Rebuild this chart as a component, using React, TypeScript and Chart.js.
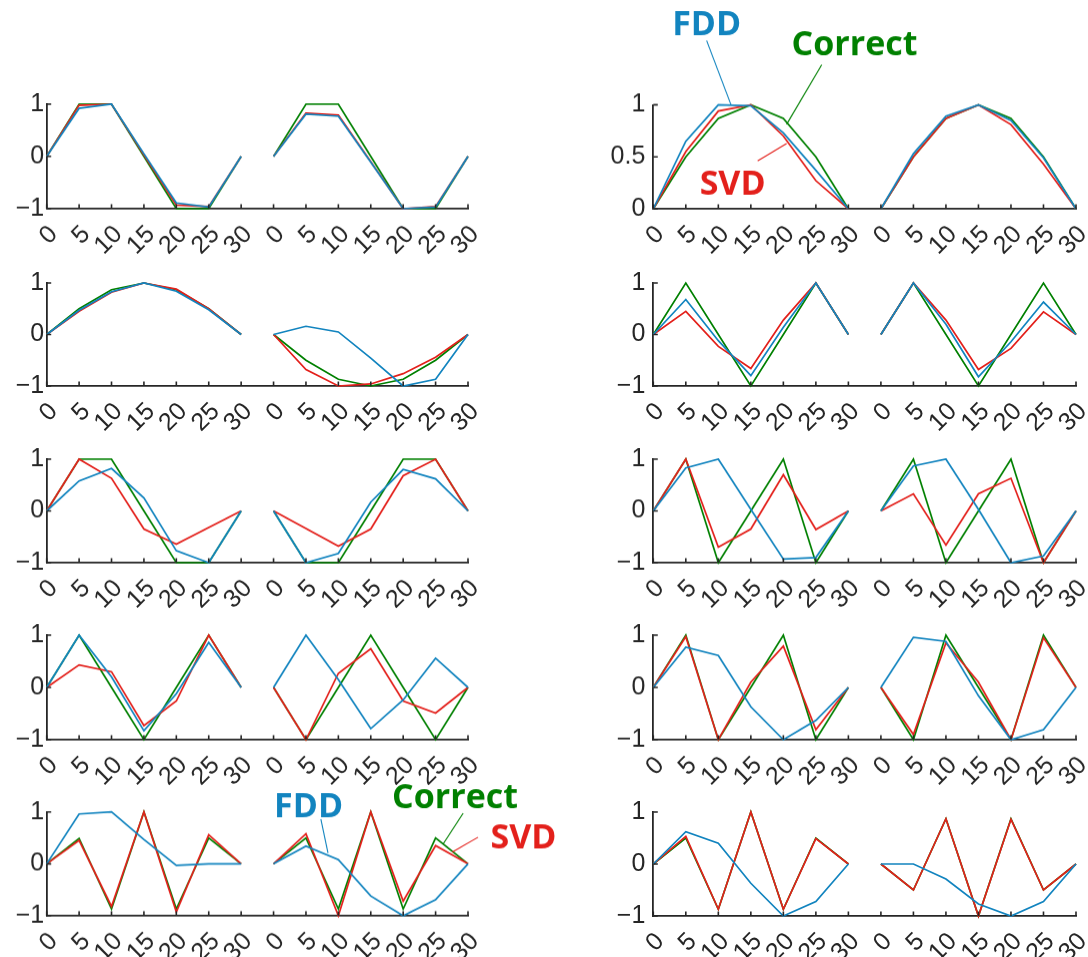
import React, { useEffect, useRef } from 'react';
import { Chart, registerables } from 'chart.js';

Chart.register(...registerables);

// ---------- tick labels ----------
const xTickLabels = ['0', '5', '10', '15', '20', '25', '30', '0', '5', '10', '15', '20', '25', '30'];
const yTickValuesFull = [-1, 0, 1];
const yTickLabelsFull = ['\u22121', '0', '1'];
const yTickValuesHalf = [0, 0.5, 1];
const yTickLabelsHalf = ['0', '0.5', '1'];

// ---------- series values (x = 0,5,...,30) ----------
// Row 1
const aCorrect = [0, 1, 1, 0, -1, -1, 0];
const aSVD = [0, 0.98, 1, 0.03, -0.93, -0.96, 0];
const aFDD = [0, 0.92, 1, 0.05, -0.89, -0.97, 0];
const bCorrect = [0, 1, 1, 0, -1, -1, 0];
const bSVD = [0, 0.83, 0.79, -0.1, -1, -0.96, 0];
const bFDD = [0, 0.81, 0.77, -0.11, -1, -0.97, 0];
const cCorrect = [0, 0.5, 0.87, 1, 0.87, 0.5, 0];
const cSVD = [0, 0.55, 0.94, 1, 0.7, 0.27, 0];
const cFDD = [0, 0.65, 1, 0.99, 0.73, 0.37, 0];
const dCorrect = [0, 0.5, 0.87, 1, 0.87, 0.5, 0];
const dSVD = [0, 0.5, 0.87, 1, 0.81, 0.43, 0];
const dFDD = [0, 0.53, 0.89, 1, 0.85, 0.49, 0];
// Row 2
const eCorrect = [0, 0.5, 0.87, 1, 0.87, 0.5, 0];
const eSVD = [0, 0.45, 0.82, 1, 0.88, 0.5, 0];
const eFDD = [0, 0.47, 0.83, 1, 0.84, 0.48, 0];
const fCorrect = [0, -0.5, -0.87, -1, -0.87, -0.5, 0];
const fSVD = [0, -0.68, -1, -0.96, -0.76, -0.44, 0];
const fFDD = [0, 0.16, 0.05, -0.46, -1, -0.87, 0];
const gCorrect = [0, 1, 0, -1, 0, 1, 0];
const gSVD = [0, 0.45, -0.23, -0.66, 0.28, 1, 0];
const gFDD = [0, 0.68, -0.12, -0.8, 0.14, 1, 0];
const hCorrect = [0, 1, 0, -1, 0, 1, 0];
const hSVD = [0, 1, 0.28, -0.68, -0.27, 0.44, 0];
const hFDD = [0, 1, 0.2, -0.82, -0.14, 0.63, 0];
// Row 3
const iCorrect = [0, 1, 1, 0, -1, -1, 0];
const iSVD = [0, 1, 0.63, -0.35, -0.64, -0.32, 0];
const iFDD = [0, 0.58, 0.82, 0.25, -0.77, -1, 0];
const jCorrect = [0, -1, -1, 0, 1, 1, 0];
const jSVD = [0, -0.34, -0.68, -0.35, 0.68, 1, 0];
const jFDD = [0, -1, -0.82, 0.17, 0.8, 0.62, 0];
const kCorrect = [0, 1, -1, 0, 1, -1, 0];
const kSVD = [0, 1, -0.7, -0.35, 0.7, -0.36, 0];
const kFDD = [0, 0.83, 1, 0.03, -0.93, -0.9, 0];
const lCorrect = [0, 1, -1, 0, 1, -1, 0];
const lSVD = [0, 0.33, -0.66, 0.33, 0.63, -1, 0];
const lFDD = [0, 0.87, 1, 0.03, -1, -0.87, 0];
// Row 4
const mCorrect = [0, 1, 0, -1, 0, 1, 0];
const mSVD = [0, 0.43, 0.3, -0.73, -0.26, 1, 0];
const mFDD = [0, 1, 0.2, -0.83, -0.12, 0.86, 0];
const nCorrect = [0, -1, 0, 1, 0, -1, 0];
const nSVD = [0, -1, 0.27, 0.74, -0.26, -0.49, 0];
const nFDD = [0, 1, 0.15, -0.79, -0.24, 0.56, 0];
const oCorrect = [0, 1, -1, 0, 1, -1, 0];
const oSVD = [0, 0.97, -1, 0.1, 0.79, -0.81, 0];
const oFDD = [0, 0.77, 0.61, -0.37, -1, -0.63, 0];
const pCorrect = [0, -1, 1, 0, -1, 1, 0];
const pSVD = [0, -0.9, 0.85, 0.1, -1, 0.95, 0];
const pFDD = [0, 0.96, 0.88, -0.16, -1, -0.81, 0];
// Row 5
const qCorrect = [0, 0.49, -0.87, 1, -0.87, 0.5, 0];
const qSVD = [0, 0.45, -0.82, 1, -0.93, 0.56, 0];
const qFDD = [0, 0.96, 1, 0.47, -0.03, 0, 0];
const rCorrect = [0, 0.5, -0.87, 1, -0.87, 0.5, 0];
const rSVD = [0, 0.58, -1, 1, -0.72, 0.35, 0];
const rFDD = [0, 0.34, 0.08, -0.62, -1, -0.69, 0];
const sCorrect = [0, 0.5, -0.87, 1, -0.87, 0.5, 0];
const sSVD = [0, 0.53, -0.87, 1, -0.87, 0.49, 0];
const sFDD = [0, 0.62, 0.4, -0.37, -1, -0.72, 0];
const tCorrect = [0, -0.5, 0.87, -1, 0.87, -0.5, 0];
const tSVD = [0, -0.5, 0.87, -1, 0.86, -0.5, 0];
const tFDD = [0, 0, -0.29, -0.77, -1, -0.72, 0];

// ---------- styles ----------
const AXIS = '#262626';
const GREEN = '#008000';
const RED = '#E3201B';
const BLUE = '#1284BF';
const TICK_FONT = { family: "'Liberation Sans', Arial, Helvetica, sans-serif", size: 25 };
const NOTE_FONT = "bold 34px 'Open Sans', 'Noto Sans', sans-serif";

const SERIES = [
  { name: 'Correct', color: GREEN, order: 2 },
  { name: 'SVD', color: RED, order: 1 },
  { name: 'FDD', color: BLUE, order: 0 },
];

type Note = { text: string; color: string; x: number; y: number; line: [number, number, number, number] };

const notesTopRight: Note[] = [
  { text: 'FDD', color: BLUE, x: 1.64, y: 1.666, line: [1.64, 1.618, 2.39, 1.0] },
  { text: 'Correct', color: GREEN, x: 6.19, y: 1.481, line: [5.18, 1.385, 4.1, 0.812] },
  { text: 'SVD', color: RED, x: 2.44, y: 0.137, line: [3.21, 0.46, 4.1, 0.627] },
];
const notesBottomLeft: Note[] = [
  { text: 'FDD', color: BLUE, x: 8.08, y: 0.898, line: [8.46, 0.86, 8.68, 0.206] },
  { text: 'Correct', color: GREEN, x: 12.6, y: 1.071, line: [12.85, 0.975, 12.23, 0.379] },
  { text: 'SVD', color: RED, x: 14.71, y: 0.302, line: [13.31, 0.513, 12.51, 0.225] },
];

const ROWS = [
  { T: 104.4, B: 208.6 },
  { T: 282.5, B: 385.5 },
  { T: 459, B: 562.7 },
  { T: 635.2, B: 739.8 },
  { T: 811.7, B: 915.7 },
];
const COLS = [
  { cx: 0, cw: 520, L: 46.7, R: 468, ypad: 2.5 },
  { cx: 596, cw: 492, L: 653.3, R: 1076, ypad: 8 },
];

type Spec = {
  key: string;
  row: number;
  col: number;
  left: number[][];
  right: number[][];
  half?: boolean;
  notes?: Note[];
  cyOverride?: number;
  cwOverride?: number;
};

const SPECS: Spec[] = [
  { key: 'r1c1', row: 0, col: 0, left: [aCorrect, aSVD, aFDD], right: [bCorrect, bSVD, bFDD] },
  { key: 'r1c2', row: 0, col: 1, left: [cCorrect, cSVD, cFDD], right: [dCorrect, dSVD, dFDD], half: true, notes: notesTopRight, cyOverride: 0 },
  { key: 'r2c1', row: 1, col: 0, left: [eCorrect, eSVD, eFDD], right: [fCorrect, fSVD, fFDD] },
  { key: 'r2c2', row: 1, col: 1, left: [gCorrect, gSVD, gFDD], right: [hCorrect, hSVD, hFDD] },
  { key: 'r3c1', row: 2, col: 0, left: [iCorrect, iSVD, iFDD], right: [jCorrect, jSVD, jFDD] },
  { key: 'r3c2', row: 2, col: 1, left: [kCorrect, kSVD, kFDD], right: [lCorrect, lSVD, lFDD] },
  { key: 'r4c1', row: 3, col: 0, left: [mCorrect, mSVD, mFDD], right: [nCorrect, nSVD, nFDD] },
  { key: 'r4c2', row: 3, col: 1, left: [oCorrect, oSVD, oFDD], right: [pCorrect, pSVD, pFDD] },
  { key: 'r5c1', row: 4, col: 0, left: [qCorrect, qSVD, qFDD], right: [rCorrect, rSVD, rFDD], notes: notesBottomLeft, cyOverride: 770, cwOverride: 580 },
  { key: 'r5c2', row: 4, col: 1, left: [sCorrect, sSVD, sFDD], right: [tCorrect, tSVD, tFDD] },
];

function toPoints(left: number[], right: number[]) {
  const pts: { x: number; y: number | null }[] = [];
  left.forEach((v, i) => pts.push({ x: i, y: v }));
  pts.push({ x: left.length - 0.5, y: null });
  right.forEach((v, i) => pts.push({ x: i + left.length, y: v }));
  return pts;
}

const inTicksPlugin = {
  id: 'inTicks',
  afterDatasetsDraw(chart: any) {
    const { ctx, chartArea, scales } = chart;
    const x = scales.x;
    const y = scales.y;
    ctx.save();
    ctx.strokeStyle = AXIS;
    ctx.lineWidth = 1.6;
    ctx.beginPath();
    x.ticks.forEach((t: any) => {
      const px = x.getPixelForValue(t.value);
      ctx.moveTo(px, chartArea.bottom);
      ctx.lineTo(px, chartArea.bottom - 4.5);
    });
    y.ticks.forEach((t: any) => {
      const py = y.getPixelForValue(t.value);
      ctx.moveTo(chartArea.left, py);
      ctx.lineTo(chartArea.left + 4.5, py);
    });
    ctx.stroke();
    ctx.restore();
  },
};

function notesPlugin(notes: Note[]) {
  return {
    id: 'notes',
    afterDatasetsDraw(chart: any) {
      const { ctx, scales } = chart;
      const x = scales.x;
      const y = scales.y;
      ctx.save();
      notes.forEach((n) => {
        ctx.strokeStyle = n.color;
        ctx.lineWidth = 1.1;
        ctx.beginPath();
        ctx.moveTo(x.getPixelForValue(n.line[0]), y.getPixelForValue(n.line[1]));
        ctx.lineTo(x.getPixelForValue(n.line[2]), y.getPixelForValue(n.line[3]));
        ctx.stroke();
        ctx.fillStyle = n.color;
        ctx.font = NOTE_FONT;
        ctx.textAlign = 'center';
        ctx.textBaseline = 'alphabetic';
        ctx.fillText(n.text, x.getPixelForValue(n.x), y.getPixelForValue(n.y));
      });
      ctx.restore();
    },
  };
}

function PairChart({ spec }: { spec: Spec }) {
  const ref = useRef<HTMLCanvasElement>(null);
  const col = COLS[spec.col];
  const row = ROWS[spec.row];
  const cx = col.cx;
  const cw = spec.cwOverride ?? col.cw;
  const cy = spec.cyOverride ?? row.T - 22;
  const ch = row.B + 60 - cy;

  useEffect(() => {
    const canvas = ref.current;
    if (!canvas) return;
    const yVals = spec.half ? yTickValuesHalf : yTickValuesFull;
    const yLabs = spec.half ? yTickLabelsHalf : yTickLabelsFull;
    const datasets = SERIES.map((s, k) => ({
      label: s.name,
      data: toPoints(spec.left[k], spec.right[k]),
      borderColor: s.color,
      backgroundColor: s.color,
      borderWidth: 1.7,
      pointRadius: 0,
      fill: false,
      tension: 0,
      spanGaps: false,
      clip: false as any,
      order: s.order,
    }));
    const chart = new Chart(canvas, {
      type: 'line',
      data: { datasets } as any,
      options: {
        animation: false,
        responsive: false,
        maintainAspectRatio: false,
        events: [],
        layout: { padding: { left: 0, top: row.T - cy, right: cx + cw - col.R, bottom: 0 } },
        plugins: { legend: { display: false }, tooltip: { enabled: false } },
        scales: {
          x: {
            type: 'linear',
            position: 'bottom',
            min: 0,
            max: xTickLabels.length - 1,
            afterBuildTicks: (s: any) => {
              s.ticks = xTickLabels.map((_, i) => ({ value: i }));
            },
            ticks: {
              autoSkip: false,
              minRotation: 45,
              maxRotation: 45,
              padding: 11,
              labelOffset: 7,
              color: AXIS,
              font: TICK_FONT,
              callback: (v: any) => xTickLabels[Math.round(Number(v))] ?? '',
            },
            grid: { display: false, drawTicks: false },
            border: { display: true, color: AXIS, width: 1.8 },
            afterFit: (s: any) => {
              s.height = cy + ch - row.B;
              s.paddingLeft = 0;
              s.paddingRight = 0;
            },
          },
          y: {
            type: 'linear',
            position: 'left',
            min: yVals[0],
            max: yVals[yVals.length - 1],
            afterBuildTicks: (s: any) => {
              s.ticks = yVals.map((v) => ({ value: v }));
            },
            ticks: {
              padding: col.ypad,
              color: AXIS,
              font: TICK_FONT,
              callback: (v: any) => {
                const idx = yVals.indexOf(Number(v));
                return idx >= 0 ? yLabs[idx] : '';
              },
            },
            grid: { display: false, drawTicks: false },
            border: { display: true, color: AXIS, width: 1.8 },
            afterFit: (s: any) => {
              s.width = col.L - cx;
              s.paddingTop = 0;
              s.paddingBottom = 0;
            },
          },
        },
      } as any,
      plugins: spec.notes ? [inTicksPlugin, notesPlugin(spec.notes)] : [inTicksPlugin],
    });
    return () => chart.destroy();
  }, []);

  return (
    <canvas
      ref={ref}
      width={cw}
      height={ch}
      style={{ position: 'absolute', left: cx, top: cy, width: cw, height: ch }}
    />
  );
}

export default function App() {
  return (
    <div
      style={{
        position: 'fixed',
        left: 0,
        top: 0,
        width: 1088,
        height: 957,
        overflow: 'hidden',
        background: '#ffffff',
      }}
    >
      {SPECS.map((s) => (
        <PairChart key={s.key} spec={s} />
      ))}
    </div>
  );
}
